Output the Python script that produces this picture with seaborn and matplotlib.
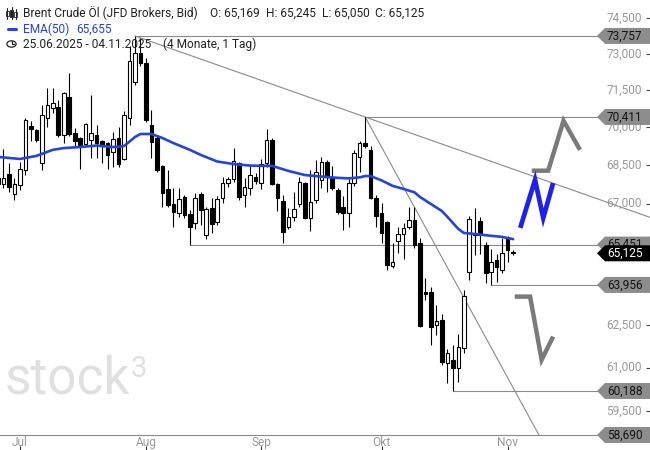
"""Brent Crude Oil (JFD, Bid) daily candles, EMA(50), key levels and scenario sketches."""
import matplotlib
matplotlib.use('Agg')
import matplotlib.pyplot as plt
import matplotlib.transforms as mtransforms
from matplotlib.lines import Line2D
from matplotlib.patches import Circle, Polygon, Rectangle
from matplotlib.ticker import FixedLocator, NullLocator
import numpy as np
import pandas as pd
import seaborn as sns

sns.set_theme(style='white')
plt.rcParams['font.family'] = ['Roboto', 'DejaVu Sans']

# --- data (USD, trading days 25.06.2025 - 04.11.2025) ---
DATES = pd.bdate_range('2025-06-25', '2025-11-04')

OPEN = [67.77, 67.77, 68.15, 67.38, 67.73, 68.31, 70.05, 69.89, 68.58, 70.37,
        70.78, 70.82, 69.69, 71.22, 69.77, 69.57, 69.33, 69.49, 69.69, 69.45,
        69.37, 69.02, 69.57, 68.74, 70.37, 71.84, 73.04, 72.63, 70.09, 69.57,
        68.47, 67.57, 66.99, 66.65, 67.26, 66.61, 66.27, 67.38, 65.81, 66.84,
        66.31, 67.22, 67.80, 67.96, 68.58, 67.34, 67.61, 68.04, 67.80, 68.58,
        69.49, 67.77, 67.11, 66.12, 66.50, 66.99, 67.80, 66.46, 67.15, 67.92,
        68.62, 68.00, 67.53, 66.88, 66.65, 67.80, 68.82, 69.37, 69.10, 67.22,
        66.65, 66.31, 64.66, 65.59, 65.85, 66.12, 66.38, 65.51, 63.70, 63.70,
        62.51, 62.69, 61.16, 61.27, 60.99, 61.69, 64.43, 65.81, 66.34, 65.44,
        64.43, 64.88, 64.51, 65.70, 65.169]
HIGH = [68.23, 69.14, 68.58, 68.00, 68.62, 70.37, 70.25, 69.93, 70.90, 71.59,
        71.59, 71.10, 71.43, 72.21, 69.97, 69.61, 70.17, 71.31, 70.09, 69.49,
        69.41, 69.81, 70.01, 70.66, 73.34, 73.757, 73.67, 72.83, 70.70, 69.69,
        68.51, 68.31, 67.61, 67.61, 67.34, 66.76, 67.42, 67.46, 66.88, 67.22,
        67.30, 68.04, 68.04, 69.17, 68.62, 68.00, 68.51, 68.19, 68.74, 69.93,
        69.57, 67.80, 67.34, 66.84, 67.46, 68.04, 67.84, 68.31, 68.70, 68.82,
        68.70, 68.47, 67.61, 67.30, 67.96, 69.10, 69.45, 70.411, 69.25, 67.34,
        67.03, 66.34, 65.51, 66.12, 66.27, 66.88, 66.88, 65.70, 64.21, 63.88,
        63.23, 62.90, 61.66, 61.80, 62.19, 63.77, 66.53, 66.84, 66.50, 65.55,
        65.29, 65.10, 65.70, 65.78, 65.245]
LOW = [67.61, 67.61, 67.46, 67.15, 67.53, 68.11, 69.45, 69.41, 68.31, 70.01,
       70.58, 69.61, 69.37, 69.65, 69.21, 68.35, 69.25, 68.78, 68.78, 68.58,
       68.35, 68.43, 68.43, 68.70, 70.09, 71.72, 72.50, 70.21, 68.78, 68.23,
       66.88, 66.88, 66.12, 66.50, 66.46, 65.451, 66.04, 66.19, 65.66, 65.89,
       66.19, 67.03, 67.65, 67.84, 67.15, 66.88, 67.34, 67.77, 67.57, 68.43,
       67.73, 66.73, 65.50, 66.04, 66.34, 66.88, 66.42, 65.97, 67.03, 67.61,
       67.46, 67.53, 66.61, 66.00, 66.12, 67.69, 68.23, 69.17, 67.18, 66.12,
       65.51, 64.51, 64.58, 65.14, 64.92, 66.04, 65.33, 62.44, 63.41, 61.80,
       62.15, 61.09, 60.47, 60.188, 60.50, 61.52, 64.14, 65.07, 65.10, 64.03,
       63.956, 64.07, 64.40, 64.80, 65.050]
CLOSE = [68.00, 68.00, 67.65, 67.77, 68.35, 70.29, 69.93, 69.49, 70.49, 70.90,
         70.98, 69.69, 71.39, 69.73, 69.45, 69.29, 70.13, 69.77, 69.37, 69.25,
         68.90, 69.53, 68.54, 70.49, 72.71, 73.04, 72.63, 70.29, 69.41, 68.31,
         67.42, 66.95, 66.69, 67.18, 66.57, 66.12, 67.22, 66.76, 66.80, 66.23,
         67.18, 67.80, 67.96, 68.66, 67.26, 67.65, 68.11, 67.88, 68.54, 69.49,
         67.77, 67.22, 65.93, 66.50, 66.80, 67.84, 66.46, 67.07, 68.23, 68.62,
         68.04, 67.61, 66.69, 66.65, 67.80, 68.98, 69.37, 69.25, 67.22, 66.53,
         65.89, 64.69, 64.80, 65.85, 66.08, 66.38, 65.44, 62.47, 63.62, 62.44,
         62.65, 61.20, 61.52, 60.99, 61.73, 63.56, 66.42, 65.85, 65.81, 64.40,
         64.80, 64.62, 65.14, 65.25, 65.125]

# EMA(50) as drawn, sampled at candle index
EMA_IDX = [0, 4, 7, 10, 12, 15, 18, 21, 23, 25, 26, 28, 30, 32, 35, 37, 40, 43, 46, 48,
           50, 53, 56, 59, 62, 64, 66, 67, 68, 70, 72, 74, 76, 77, 79, 81, 82, 84, 85, 87,
           90, 92, 94]
EMA_VAL = [68.82, 68.74, 68.86, 69.10, 69.17, 69.21, 69.27, 69.21, 69.25, 69.61,
           69.73, 69.73, 69.57, 69.37, 69.10, 68.90, 68.64, 68.54, 68.48, 68.47,
           68.47, 68.27, 68.11, 68.05, 68.00, 67.98, 68.02, 68.07, 68.07, 67.90,
           67.69, 67.57, 67.44, 67.26, 66.99, 66.72, 66.50, 66.04, 65.89, 65.85,
           65.78, 65.74, 65.655]

LEVELS = [73.757, 70.411, 65.451, 63.956, 60.188]
LEVEL_START = [25, 67, 35, 90, 83]
BOTTOM_LEVEL = 58.690
LAST_PRICE = 65.125
Y_TICKS = [59.5, 61.0, 62.5, 64.0, 65.5, 67.0, 68.5, 70.0, 71.5, 73.0, 74.5]
MONTHS_DE = ['Jan', 'Feb', 'Mär', 'Apr', 'Mai', 'Jun', 'Jul', 'Aug', 'Sep', 'Okt', 'Nov', 'Dez']
HEADER_OHLC = ['O: 65,169', 'H: 65,245', 'L: 65,050', 'C: 65,125']

# trend lines: anchor candles and prices
TREND_A_IDX, TREND_A_VAL = [25, 67], [73.757, 70.411]
TREND_B_IDX, TREND_B_VAL = [67, 94.9], [70.411, 59.99]

# hand-drawn scenario sketches (candle index, price)
BULL_X, BULL_Y = [95.3, 98.0, 99.5, 101.3], [66.08, 67.92, 66.46, 67.80]
UP_X, UP_Y = [97.4, 100.4, 103.2, 106.2], [68.28, 68.28, 70.26, 69.10]
DOWN_X, DOWN_Y = [94.3, 97.1, 99.2, 101.3], [63.53, 63.53, 61.27, 62.09]

W, H = 650, 450
X_LEFT, X_RIGHT = 0.365, 118.98
Y_TOP = 75.29
GRAY_TXT = '#9a9a9a'
EMA_BLUE = '#2545d4'
LABEL_FS = 8.6


def fmt(v):
    return f'{v:.3f}'.replace('.', ',')


def extend(idx, val, x_end):
    # straight line on the log price axis
    slope = (np.log(val[1]) - np.log(val[0])) / (idx[1] - idx[0])
    return [idx[0], x_end], [val[0], float(np.exp(np.log(val[0]) + slope * (x_end - idx[0])))]


def price_tag(ax, value, face, text_color, z):
    ytrans = ax.get_yaxis_transform()
    trans = ax.figure.dpi_scale_trans + mtransforms.ScaledTranslation(1.0, value, ytrans)
    pts = np.array([[-53, 0], [-45, 8], [0, 8], [0, -8], [-45, -8]]) / 100
    ax.add_patch(Polygon(pts, closed=True, transform=trans, facecolor=face,
                         edgecolor='none', zorder=z, clip_on=False))
    ax.annotate(fmt(value), xy=(1, value), xycoords=ytrans, xytext=(-43 * 0.72, 0),
                textcoords='offset points', ha='left', va='center', fontsize=LABEL_FS,
                color=text_color, zorder=z + 0.1, annotation_clip=False)


fig = plt.figure(figsize=(W / 100, H / 100), dpi=100)
ax = fig.add_axes([0, 15 / H, 1, 1 - 15 / H])
ax.set_yscale('log')

o, h, l, c = (np.array(a) for a in (OPEN, HIGH, LOW, CLOSE))
idx = np.arange(len(o))
up = c >= o

# levels and trend lines
ax.hlines(LEVELS, LEVEL_START, X_RIGHT, color='#8a8a8a', lw=0.8, zorder=1)
for tx, tv, xe in [(TREND_A_IDX, TREND_A_VAL, 125), (TREND_B_IDX, TREND_B_VAL, 110)]:
    lx, ly = extend(tx, tv, xe)
    ax.plot(lx, ly, color='#8a8a8a', lw=0.8, zorder=1)

# candles
ax.vlines(idx, l, h, color='black', lw=0.8, zorder=3)
ax.bar(idx[up], (c - o)[up], bottom=o[up], width=0.66, color='white',
       edgecolor='black', lw=0.8, zorder=4)
ax.bar(idx[~up], (o - c)[~up], bottom=c[~up], width=0.66, color='black',
       edgecolor='black', lw=0.8, zorder=4)

# EMA(50)
sns.lineplot(x=EMA_IDX, y=EMA_VAL, ax=ax, color=EMA_BLUE, lw=1.9, zorder=5)

# scenario sketches
ax.plot(UP_X, UP_Y, color='#7a7a7a', lw=3.2, solid_joinstyle='miter', solid_capstyle='butt', zorder=6)
ax.plot(DOWN_X, DOWN_Y, color='#7a7a7a', lw=3.2, solid_joinstyle='miter', solid_capstyle='butt', zorder=6)
ax.plot(BULL_X, BULL_Y, color='#1f1ff0', lw=3.4, solid_joinstyle='miter', solid_capstyle='butt', zorder=6)

ax.set_xlim(X_LEFT, X_RIGHT)
ax.set_ylim(BOTTOM_LEVEL, Y_TOP)

# y axis: ticks at the right edge, labels inside the plot
ax.yaxis.set_major_locator(FixedLocator(Y_TICKS))
ax.yaxis.set_minor_locator(NullLocator())
ax.yaxis.tick_right()
ax.tick_params(axis='y', direction='in', length=3, width=0.8, color='#444',
               labelright=False, labelleft=False)
ytrans = ax.get_yaxis_transform()
for v in Y_TICKS:
    ax.annotate(fmt(v), xy=(1, v), xycoords=ytrans, xytext=(-8 * 0.72, 0),
                textcoords='offset points', ha='right', va='center', fontsize=LABEL_FS,
                color=GRAY_TXT, zorder=2)

# x axis: first trading day of each month
month_idx = [i for i in range(1, len(DATES)) if DATES[i].month != DATES[i - 1].month]
ax.set_xticks(month_idx)
ax.set_xticklabels([MONTHS_DE[DATES[i].month - 1] for i in month_idx], color=GRAY_TXT, fontsize=LABEL_FS)
ax.tick_params(axis='x', length=0, pad=1)
ax.vlines(month_idx, -0.026, -0.04, transform=ax.get_xaxis_transform(),
          color='#333', lw=0.8, clip_on=False)

for s in ['top', 'left', 'right']:
    ax.spines[s].set_visible(False)
ax.spines['bottom'].set_color('#8a8a8a')
ax.spines['bottom'].set_linewidth(0.8)
ax.set_xlabel('')
ax.set_ylabel('')

# price tags
for v in LEVELS + [BOTTOM_LEVEL]:
    price_tag(ax, v, '#8c8c8c', '#151515', 7)
price_tag(ax, LAST_PRICE, 'black', 'white', 8)


def fx(px):
    return px / W


def fy(py):
    return 1 - py / H


# watermark
fig.text(fx(5), fy(380), 'stock', fontsize=37, color='#e0e0e0', va='center', ha='left')
fig.text(fx(131), fy(369), '3', fontsize=21, color='#e0e0e0', va='center', ha='left')

# header
TXT = '#222222'
HDR_FS = 8.6
fig.text(fx(23), fy(13), 'Brent Crude Öl (JFD Brokers, Bid)', fontsize=HDR_FS, color=TXT, va='center')
for px, s in zip([210, 266, 322, 375], HEADER_OHLC):
    fig.text(fx(px), fy(13), s, fontsize=HDR_FS, color=TXT, va='center')
fig.text(fx(23), fy(29), 'EMA(50)', fontsize=HDR_FS, color=EMA_BLUE, va='center')
fig.text(fx(76), fy(29), '65,655', fontsize=HDR_FS, color=EMA_BLUE, va='center')
fig.text(fx(23), fy(44), '25.06.2025 - 04.11.2025', fontsize=HDR_FS, color=TXT, va='center')
fig.text(fx(163), fy(44), '(4 Monate, 1 Tag)', fontsize=HDR_FS, color=TXT, va='center')

# header icons
for cx, top, bot, b0, b1, filled in [(7, 8, 19, 11, 16, False), (11.5, 7, 19, 10, 17, True), (16, 9, 19, 12, 17, False)]:
    fig.add_artist(Line2D([fx(cx), fx(cx)], [fy(top), fy(bot)], color=TXT, lw=0.8))
    fig.add_artist(Rectangle((fx(cx - 1.5), fy(b1)), 3 / W, (b1 - b0) / H, facecolor=TXT if filled else 'white',
                             edgecolor=TXT, lw=0.6))
fig.add_artist(Line2D([fx(8), fx(16)], [fy(29), fy(29)], color=EMA_BLUE, lw=2.2))
fig.add_artist(Circle((fx(11.5), fy(44)), 4.6 / W, transform=fig.transFigure, fill=False,
                      edgecolor=TXT, lw=0.9))
fig.add_artist(Line2D([fx(11.5), fx(11.5), fx(14)], [fy(41), fy(44), fy(44)], color=TXT, lw=0.9))

fig.savefig('out.png', dpi=100)
